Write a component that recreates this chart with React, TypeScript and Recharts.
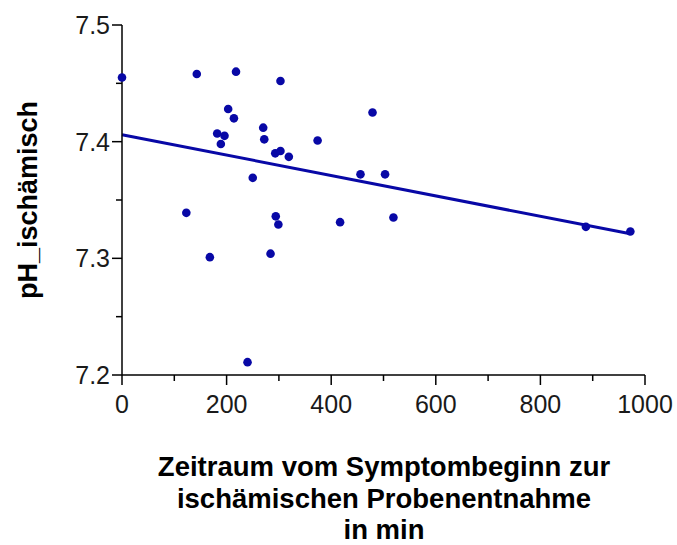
import React from "react";
import {
  ScatterChart,
  Scatter,
  XAxis,
  YAxis,
  ReferenceLine,
} from "recharts";

// Zeit (min) und pH je Patient
const minutes = [
  0, 143, 218, 303, 203, 214, 270, 182, 196, 189, 272, 374, 293, 303, 319,
  250, 123, 294, 299, 168, 284, 240, 479, 456, 503, 417, 519, 887, 972,
];
const phValues = [
  7.455, 7.458, 7.46, 7.452, 7.428, 7.42, 7.412, 7.407, 7.405, 7.398, 7.402,
  7.401, 7.39, 7.392, 7.387, 7.369, 7.339, 7.336, 7.329, 7.301, 7.304, 7.211,
  7.425, 7.372, 7.372, 7.331, 7.335, 7.327, 7.323,
];

// Regressionsgerade (Endpunkte)
const fitX = [0, 972];
const fitY = [7.406, 7.321];

const xTicks = [0, 100, 200, 300, 400, 500, 600, 700, 800, 900, 1000];
const yTicks = [7.2, 7.25, 7.3, 7.35, 7.4, 7.45, 7.5];

const xTitle = ["Zeitraum vom Symptombeginn zur", "ischämischen Probenentnahme", "in min"];
const yTitle = "pH_ischämisch";

const points = minutes.map((m, i) => ({ x: m, y: phValues[i] }));

const BLUE = "#0808a6";
const FONT = "'Liberation Sans', Arial, sans-serif";

const XTick = (props: any) => {
  const { x, y, payload } = props;
  const major = payload.value % 200 === 0;
  return (
    <g>
      <line x1={x} x2={x} y1={y - 10} y2={major ? y : y - 4} stroke="#000" strokeWidth={1.5} />
      {major && (
        <text x={x} y={y + 28} textAnchor="middle" fontSize={25} fontFamily={FONT} fill="#1a1a1a">
          {payload.value}
        </text>
      )}
    </g>
  );
};

const YTick = (props: any) => {
  const { x, y, payload } = props;
  const v = payload.value as number;
  const major = Math.abs(v * 10 - Math.round(v * 10)) < 1e-6;
  return (
    <g>
      <line x1={major ? x : x + 4} x2={x + 10} y1={y} y2={y} stroke="#000" strokeWidth={1.5} />
      {major && (
        <text x={x - 2} y={y + 9} textAnchor="end" fontSize={25} fontFamily={FONT} fill="#1a1a1a">
          {v.toFixed(1)}
        </text>
      )}
    </g>
  );
};

export default function App() {
  return (
    <div style={{ position: "absolute", left: 0, top: 0, width: 677, height: 545, background: "#fff" }}>
      <ScatterChart width={677} height={545} margin={{ top: 25, right: 32, bottom: 110, left: 0 }}>
        <XAxis
          type="number"
          dataKey="x"
          domain={[0, 1000]}
          ticks={xTicks}
          interval={0}
          height={60}
          tickSize={10}
          tickMargin={0}
          tickLine={false}
          axisLine={{ stroke: "#000", strokeWidth: 1.5 }}
          tick={<XTick />}
        />
        <YAxis
          type="number"
          dataKey="y"
          domain={[7.2, 7.5]}
          ticks={yTicks}
          interval={0}
          width={122}
          tickSize={10}
          tickMargin={0}
          tickLine={false}
          axisLine={{ stroke: "#000", strokeWidth: 1.5 }}
          tick={<YTick />}
        />
        <ReferenceLine
          segment={[
            { x: fitX[0], y: fitY[0] },
            { x: fitX[1], y: fitY[1] },
          ]}
          stroke={BLUE}
          strokeWidth={3}
          ifOverflow="visible"
        />
        <Scatter data={points} fill={BLUE} isAnimationActive={false} shape={(p: any) => <circle cx={p.cx} cy={p.cy} r={4.3} fill={BLUE} />} />
      </ScatterChart>
      <svg
        width={677}
        height={545}
        style={{ position: "absolute", left: 0, top: 0, pointerEvents: "none" }}
      >
        <text
          transform="translate(37,200) rotate(-90)"
          textAnchor="middle"
          fontSize={27}
          fontWeight="bold"
          fontFamily={FONT}
          fill="#000"
        >
          {yTitle}
        </text>
        {xTitle.map((line, i) => (
          <text
            key={line}
            x={384}
            y={476 + i * 31.5}
            textAnchor="middle"
            fontSize={27.5}
            fontWeight="bold"
            fontFamily={FONT}
            fill="#000"
          >
            {line}
          </text>
        ))}
      </svg>
    </div>
  );
}
